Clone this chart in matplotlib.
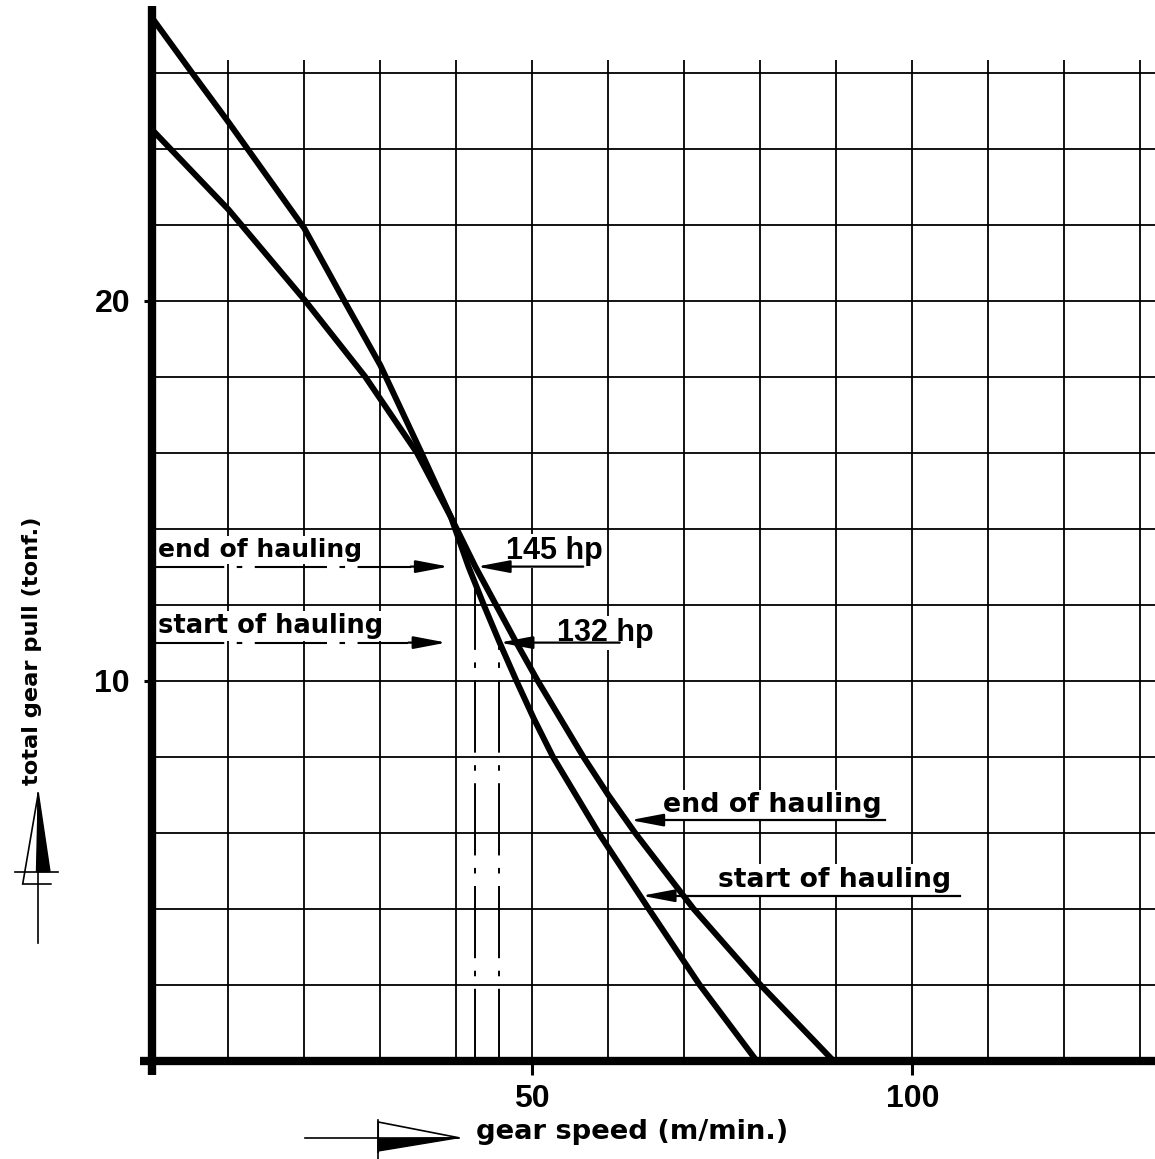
import matplotlib
matplotlib.use("Agg")
import matplotlib.pyplot as plt
from matplotlib.lines import Line2D
from matplotlib.patches import Polygon

plt.rcParams['lines.scale_dashes'] = False

# gear pull (tonf.) against gear speed (m/min.)
speed_start = [0, 5.2, 10, 12.5, 20, 25.1, 30, 35.4, 39.3, 41.6, 43.6, 45.7, 47.9, 50.2, 52.7, 58.7, 65.3, 72.0, 79.5]
pull_start = [27.43, 26, 24.7, 24, 21.9, 20.05, 18.3, 16, 14.3, 13, 12, 11, 10, 9, 8, 6, 4, 2, 0]

speed_end = [0, 10, 20.1, 28.0, 34.8, 39.3, 42.5, 45.2, 47.9, 50.7, 56.7, 60.0, 63.5, 71.2, 80.0, 89.6]
pull_end = [24.49, 22.4, 20, 18, 16, 14.3, 13, 12, 11, 10, 8, 6.99, 6, 4, 2, 0]

# operating points
op_pull = [13, 11]
op_speed = [42.4, 45.6]
op_hp = ["145 hp", "132 hp"]
op_names = ["end of hauling", "start of hauling"]

x_ticks = [50, 100]
y_ticks = [10, 20]
grid_x = list(range(10, 131, 10))
grid_y = list(range(2, 27, 2))

W, H = 1155, 1159
X_MAX = 131.93
Y_MAX = 27.75

LABEL_FONT = dict(family='DejaVu Sans', weight='bold')
NUM_FONT = dict(family='Liberation Sans', weight='bold')
DASH = (0, (52, 9, 4, 9))
WHITE = dict(facecolor='white', edgecolor='none', pad=1.5)


def fig_xy(x, y):
    # pixel position on the sheet -> figure fraction
    return x / W, 1 - y / H


def arrow(ax, tip_x, from_x, y):
    ax.annotate("", xy=(tip_x, y), xytext=(from_x, y),
                arrowprops=dict(arrowstyle="-|>,head_length=2.0,head_width=0.38",
                                color="black", lw=1.6, shrinkA=0, shrinkB=0))


fig = plt.figure(figsize=(W / 100, H / 100), dpi=100)
ax = fig.add_axes([152.3 / W, 1 - 1060.7 / H, 1 - 152.3 / W, 1054.7 / H])
ax.set_xlim(0, X_MAX)
ax.set_ylim(0, Y_MAX)
for s in ax.spines.values():
    s.set_visible(False)

# grid
ax.vlines(grid_x, 0, 26.33, color='black', lw=1.3, zorder=1)
ax.hlines(grid_y, 0, X_MAX, color='black', lw=1.3, zorder=1)

# heavy axes
ax.plot([0, 0], [-0.38, Y_MAX], color='black', lw=6, solid_capstyle='butt', clip_on=False, zorder=5)
ax.plot([-1.6, X_MAX], [0, 0], color='black', lw=6, solid_capstyle='butt', clip_on=False, zorder=5)

ax.set_xticks(x_ticks)
ax.set_xticklabels([str(v) for v in x_ticks], fontsize=23, **NUM_FONT)
ax.set_yticks(y_ticks)
ax.set_yticklabels([str(v) for v in y_ticks], fontsize=23, **NUM_FONT)
ax.tick_params(axis='x', length=10, width=2.2, pad=7)
ax.tick_params(axis='y', length=6, width=2.2, pad=10)

# curves
for sx, sy in [(speed_start, pull_start), (speed_end, pull_end)]:
    ax.plot(sx, sy, color='black', lw=4.3, zorder=4, clip_on=False,
            solid_joinstyle='round', solid_capstyle='butt')

# operating points: dashed leaders from the left, hp arrows from the right
left_tips = [39.0, 38.7]
right_from = [56.7, 61.5]
hp_x = [46.6, 53.3]
hp_y = [13.2, 11.05]
name_size = [18, 18.5]
for i in range(2):
    y = op_pull[i]
    ax.plot([0, left_tips[i] - 5], [y, y], color='black', lw=1.5, linestyle=DASH, zorder=3)
    arrow(ax, left_tips[i], left_tips[i] - 5, y)
    arrow(ax, op_speed[i] + (0.3 if i == 0 else 0.1), right_from[i], y)
    ax.vlines(op_speed[i], 0, y, color='black', lw=1.4, linestyle=DASH, zorder=3)
    ax.text(0.7, y + 0.25, op_names[i], fontsize=name_size[i], ha='left', va='baseline',
            bbox=WHITE, zorder=2, **LABEL_FONT)
    ax.text(hp_x[i], hp_y[i], op_hp[i], fontsize=22, ha='left', va='baseline',
            bbox=WHITE, zorder=2, **NUM_FONT)

# curve labels on the right
ax.text(67.2, 6.55, "end of hauling", fontsize=19.4, ha='left', va='baseline', bbox=WHITE, zorder=2, **LABEL_FONT)
ax.plot([96.4, 66], [6.33, 6.33], color='black', lw=1.6, zorder=3)
arrow(ax, 62.9, 67, 6.33)
ax.text(74.4, 4.58, "start of hauling", fontsize=19.2, ha='left', va='baseline', bbox=WHITE, zorder=2, **LABEL_FONT)
ax.plot([106.3, 67], [4.34, 4.34], color='black', lw=1.6, zorder=3)
arrow(ax, 64.4, 68.5, 4.34)

# axis titles with their drawn arrows
fig.text(*fig_xy(32, 785), "total gear pull (tonf.)", rotation=90, ha='center', va='bottom',
         fontsize=16.2, **LABEL_FONT)
fig.text(*fig_xy(476, 1139), "gear speed (m/min.)", ha='left', va='baseline', fontsize=19.7, **LABEL_FONT)

tf = fig.transFigure
fig.add_artist(Line2D(*zip(fig_xy(38.3, 793), fig_xy(38.3, 943)), color='black', lw=1.2, transform=tf))
fig.add_artist(Line2D(*zip(fig_xy(15, 871.7), fig_xy(58.3, 871.7)), color='black', lw=1.2, transform=tf))
fig.add_artist(Polygon([fig_xy(38.3, 793), fig_xy(22.7, 884), fig_xy(51.7, 884)], closed=False,
                       fill=False, edgecolor='black', lw=1.2, transform=tf))
fig.add_artist(Polygon([fig_xy(38.3, 793), fig_xy(36.5, 871.7), fig_xy(50, 871.7)],
                       color='black', transform=tf))

fig.add_artist(Line2D(*zip(fig_xy(304.6, 1137.7), fig_xy(458.6, 1137.7)), color='black', lw=1.2, transform=tf))
fig.add_artist(Line2D(*zip(fig_xy(378.2, 1120), fig_xy(378.2, 1159)), color='black', lw=1.2, transform=tf))
fig.add_artist(Polygon([fig_xy(458.6, 1137.7), fig_xy(378.2, 1122), fig_xy(378.2, 1153)], closed=False,
                       fill=False, edgecolor='black', lw=1.2, transform=tf))
fig.add_artist(Polygon([fig_xy(458.6, 1137.7), fig_xy(378.2, 1139), fig_xy(378.2, 1151)],
                       color='black', transform=tf))

fig.savefig("out.png", dpi=100, facecolor='white')
